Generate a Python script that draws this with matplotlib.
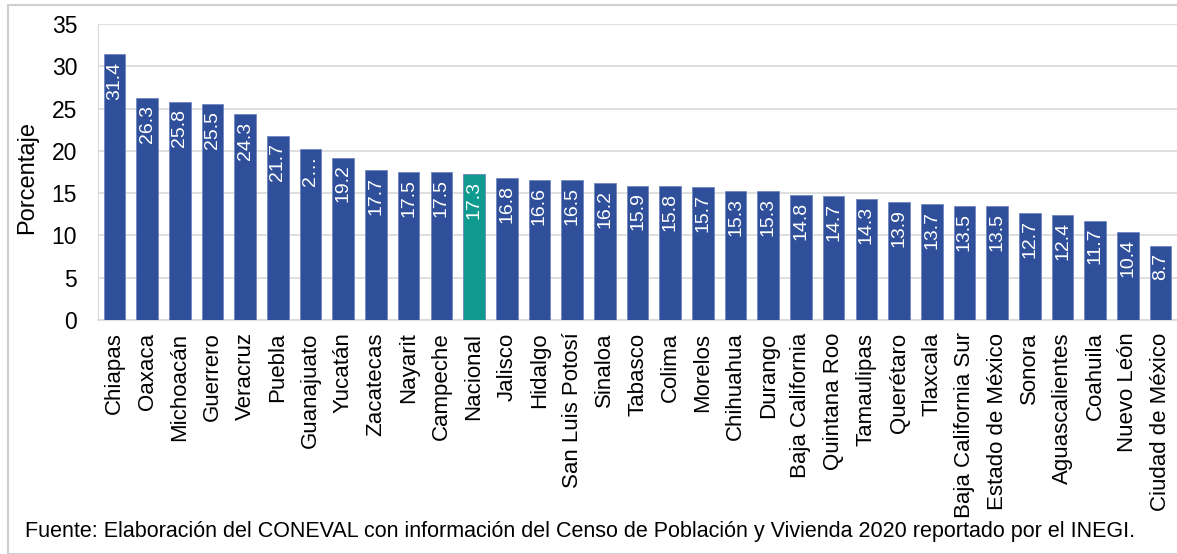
import matplotlib.pyplot as plt
from matplotlib.patches import Rectangle

plt.rcParams['font.family'] = ['Liberation Sans', 'DejaVu Sans']

estados = ["Chiapas", "Oaxaca", "Michoacán", "Guerrero", "Veracruz", "Puebla",
           "Guanajuato", "Yucatán", "Zacatecas", "Nayarit", "Campeche", "Nacional",
           "Jalisco", "Hidalgo", "San Luis Potosí", "Sinaloa", "Tabasco", "Colima",
           "Morelos", "Chihuahua", "Durango", "Baja California", "Quintana Roo",
           "Tamaulipas", "Querétaro", "Tlaxcala", "Baja California Sur",
           "Estado de México", "Sonora", "Aguascalientes", "Coahuila", "Nuevo León",
           "Ciudad de México"]
porcentaje = [31.4, 26.3, 25.8, 25.5, 24.3, 21.7, 20.2, 19.2, 17.7, 17.5, 17.5, 17.3,
              16.8, 16.6, 16.5, 16.2, 15.9, 15.8, 15.7, 15.3, 15.3, 14.8, 14.7, 14.3,
              13.9, 13.7, 13.5, 13.5, 12.7, 12.4, 11.7, 10.4, 8.7]
# etiqueta recortada en el original
etiquetas = [f"{v:.1f}" for v in porcentaje]
etiquetas[6] = "2…"

azul = "#2f4f9b"
verde = "#0e9a8e"
colores = [verde if e == "Nacional" else azul for e in estados]

fig = plt.figure(figsize=(11.77, 5.54), dpi=100)
ax = fig.add_axes([98 / 1177, 1 - 320 / 554, 1079 / 1177, 296 / 554])

x = range(len(estados))
bars = ax.bar(x, porcentaje, width=0.66, color=colores, edgecolor="#6f86c0",
              linewidth=0.6, zorder=3)
for b, t in zip(bars, etiquetas):
    ax.annotate(t, (b.get_x() + b.get_width() / 2, b.get_height()),
                xytext=(0, -5), textcoords="offset points", rotation=90,
                ha="center", va="top", color="white", fontsize=14)

ax.set_xlim(-0.5, len(estados) - 0.5)
ax.set_ylim(0, 35)
ax.set_yticks(range(0, 36, 5))
ax.set_xticks(list(x))
ax.set_xticklabels(estados, rotation=90, fontsize=16)
ax.tick_params(axis="y", labelsize=16.5, length=0, pad=15)
ax.tick_params(axis="x", length=0, pad=9)
ax.set_ylabel("Porcentaje", fontsize=17)
ax.yaxis.set_label_coords(-60 / 1079, 0.483)
ax.grid(axis="y", color="#d9d9d9", linewidth=1.2, zorder=0)
for s in ["top", "right"]:
    ax.spines[s].set_visible(False)
ax.spines["left"].set_color("#d9d9d9")
ax.spines["bottom"].set_color("#d9d9d9")
ax.spines["bottom"].set_linewidth(1.2)

fig.patches.append(Rectangle((8 / 1177, 0.0), 1.0, 1 - 5 / 554, transform=fig.transFigure,
                             fill=False, edgecolor="#d0d0d0", linewidth=1.5))

fig.text(25 / 1177, 1 - 532 / 554,
         "Fuente: Elaboración del CONEVAL con información del Censo de Población y "
         "Vivienda 2020 reportado por el INEGI.", fontsize=15.5, va="center", ha="left")

fig.savefig("out.png", dpi=100)
